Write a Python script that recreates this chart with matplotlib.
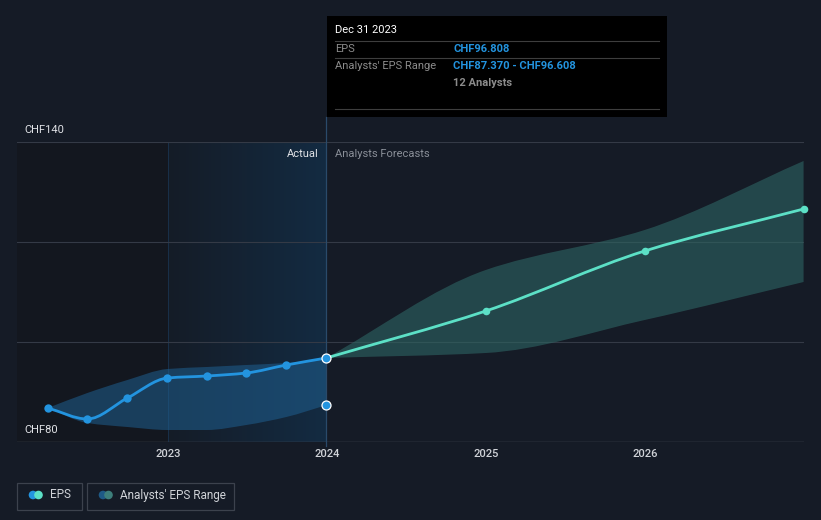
import numpy as np
import pandas as pd
import matplotlib
matplotlib.use("Agg")
import matplotlib.pyplot as plt
import matplotlib.dates as mdates
from matplotlib.path import Path
from matplotlib.patches import PathPatch, Rectangle, Circle

plt.rcParams['font.family'] = ['Roboto', 'DejaVu Sans']

# Data
actual_dates = ["2022-03-31", "2022-06-30", "2022-09-30", "2022-12-31",
                "2023-03-31", "2023-06-30", "2023-09-30", "2023-12-31"]
actual_eps = [86.8, 84.6, 88.8, 92.8, 93.2, 93.8, 95.4, 96.808]
actual_high = [86.8, 89.8, 92.4, 94.6, 95.0, 95.4, 95.8, 96.608]
actual_low = [86.8, 83.8, 83.0, 82.4, 82.4, 83.4, 85.0, 87.370]

fc_dates = ["2023-12-31", "2024-12-31", "2025-12-31", "2026-12-31"]
fc_eps = [96.808, 106.2, 118.2, 126.6]
fc_high = [96.808, 114.4, 122.4, 136.2]
fc_low = [96.808, 97.8, 104.4, 112.0]

year_ticks = ["2023", "2024", "2025", "2026"]
y_labels = ["CHF140", "CHF80"]

BG = "#151b26"
BLUE = "#2394df"
TEAL = "#5ce0c6"

W, H = 821, 520


def to_num(dates):
    return mdates.date2num(pd.to_datetime(dates))


def smooth(x, y):
    # monotone cubic as bezier segments
    x = np.asarray(x, float)
    y = np.asarray(y, float)
    h = np.diff(x)
    d = np.diff(y) / h
    m = np.zeros_like(y)
    m[0], m[-1] = d[0], d[-1]
    for i in range(1, len(y) - 1):
        if d[i - 1] * d[i] <= 0:
            m[i] = 0
        else:
            m[i] = 3 * (h[i - 1] + h[i]) / ((2 * h[i] + h[i - 1]) / d[i - 1] + (h[i] + 2 * h[i - 1]) / d[i])
    verts = [(x[0], y[0])]
    for i in range(len(h)):
        verts.append((x[i] + h[i] / 3, y[i] + m[i] * h[i] / 3))
        verts.append((x[i + 1] - h[i] / 3, y[i + 1] - m[i + 1] * h[i] / 3))
        verts.append((x[i + 1], y[i + 1]))
    return verts


def line_path(x, y):
    v = smooth(x, y)
    codes = [Path.MOVETO] + [Path.CURVE4] * (len(v) - 1)
    return Path(v, codes)


def band_path(x, lo, hi):
    up = smooth(x, hi)
    dn = smooth(x[::-1], lo[::-1])
    v = up + [dn[0]] + dn[1:] + [up[0]]
    codes = [Path.MOVETO] + [Path.CURVE4] * (len(up) - 1) + [Path.LINETO] + \
            [Path.CURVE4] * (len(dn) - 1) + [Path.CLOSEPOLY]
    return Path(v, codes)


xa = to_num(actual_dates)
xf = to_num(fc_dates)
x2023, x2024 = to_num(["2023-01-01", "2024-01-01"])
x_left = x2023 - 151 / 159 * 365
x_right = to_num(["2027-01-01"])[0]

fig = plt.figure(figsize=(W / 100, H / 100), dpi=100, facecolor=BG)
ax = fig.add_axes([17 / W, 1 - 442 / H, 787 / W, 300 / H])
ax.set_facecolor(BG)
ax.set_xlim(x_left, x_right)
ax.set_ylim(80, 140)

# past background regions
ax.axvspan(x_left, x2023, color="#13171f", zorder=0, lw=0)
grad = np.zeros((1, 256, 4))
c0 = np.array(matplotlib.colors.to_rgb("#151c27"))
c1 = np.array(matplotlib.colors.to_rgb("#132b42"))
t = np.linspace(0, 1, 256)[:, None]
grad[0, :, :3] = c0 + (c1 - c0) * t
grad[0, :, 3] = 1
ax.imshow(grad, extent=[x2023, x2024, 80, 140], aspect="auto", zorder=0.5)
ax.axvline(x2023, color="#19304a", lw=0.7, zorder=1)

for yv in [100, 120, 140]:
    ax.axhline(yv, color="#343a46", lw=0.8, zorder=1)
ax.axhline(80, color="#4a505b", lw=1, zorder=1)

ax.add_patch(PathPatch(band_path(xa, np.array(actual_low), np.array(actual_high)),
                       facecolor="#1e5f90", alpha=0.55, lw=0, zorder=2))
ax.add_patch(PathPatch(band_path(xf, np.array(fc_low), np.array(fc_high)),
                       facecolor="#2e6664", alpha=0.6, lw=0, zorder=2))

# hover line at the last actual date, reaching up to the tooltip
ax.axvline(xa[-1], ymin=-0.013, ymax=325 / 300, color="#2a4a6a", lw=0.9,
           zorder=2.5, clip_on=False)

ax.add_patch(PathPatch(line_path(xa, actual_eps), facecolor="none",
                       edgecolor=BLUE, lw=2, zorder=3, capstyle="round"))
ax.add_patch(PathPatch(line_path(xf, fc_eps), facecolor="none",
                       edgecolor=TEAL, lw=2, zorder=3, capstyle="round"))

ax.scatter(xa[:-1], actual_eps[:-1], s=36, color=BLUE, zorder=4, lw=0)
ax.scatter(xf[1:], fc_eps[1:], s=30, color=TEAL, zorder=4, lw=0, clip_on=False)
ax.scatter([xa[-1], xa[-1]], [actual_eps[-1], actual_low[-1]], s=42, color=BLUE,
           edgecolor="white", lw=0.9, zorder=5)

ax.set_xticks(to_num([y + "-01-01" for y in year_ticks]))
ax.set_xticklabels(year_ticks, color="#d0d3d8", fontsize=8, fontweight="medium")
ax.tick_params(axis="x", length=0, pad=5)
ax.set_yticks([])
for s in ax.spines.values():
    s.set_visible(False)

# overlay in pixel coordinates
ov = fig.add_axes([0, 0, 1, 1])
ov.set_xlim(0, W)
ov.set_ylim(H, 0)
ov.axis("off")
ov.patch.set_alpha(0)

ov.text(24, 130, y_labels[0], color="#e0e2e6", fontsize=8, va="center")
ov.text(24, 430, y_labels[1], color="#e0e2e6", fontsize=8, va="center")
ov.text(319, 154, "Actual", color="#e0e2e6", fontsize=8, ha="right", va="center")
ov.text(335, 154, "Analysts Forecasts", color="#8a8f98", fontsize=8, va="center")

# tooltip
ov.add_patch(Rectangle((327, 16), 340, 101, facecolor="black", edgecolor="none", zorder=10))
for yl in [41, 58, 109]:
    ov.plot([335, 659], [yl, yl], color="#3e3e3e", lw=0.8, zorder=11)
ov.text(335, 30, "Dec 31 2023", color="white", fontsize=8, va="center", zorder=12)
ov.text(335, 49, "EPS", color="#8c8c8c", fontsize=8, va="center", zorder=12)
ov.text(453, 49, "CHF96.808", color=BLUE, fontsize=8, fontweight="bold", va="center", zorder=12)
ov.text(335, 66, "Analysts' EPS Range", color="#8c8c8c", fontsize=8, va="center", zorder=12)
ov.text(453, 66, "CHF87.370 - CHF96.608", color=BLUE, fontsize=8, fontweight="bold",
        va="center", zorder=12)
ov.text(453, 83, "12 Analysts", color="#8c8c8c", fontsize=8, fontweight="bold",
        va="center", zorder=12)

# legend
ov.add_patch(Rectangle((16.5, 482.5), 65, 27, facecolor="none", edgecolor="#3c424d", lw=0.9))
ov.add_patch(Rectangle((86.5, 482.5), 147, 27, facecolor="none", edgecolor="#3c424d", lw=0.9))
ov.add_patch(Circle((33, 495), 4.3, color=BLUE, lw=0))
ov.add_patch(Circle((38.5, 495), 4.3, color=TEAL, lw=0))
ov.add_patch(Circle((103, 495), 4.3, color="#1e5a86", lw=0))
ov.add_patch(Circle((108.5, 495), 4.3, color="#3d7f7b", lw=0))
ov.text(50, 495, "EPS", color="#d0d3d8", fontsize=8.5, va="center")
ov.text(120, 495, "Analysts' EPS Range", color="#d0d3d8", fontsize=8.5, va="center")

fig.savefig("out.png", dpi=100, facecolor=BG)
